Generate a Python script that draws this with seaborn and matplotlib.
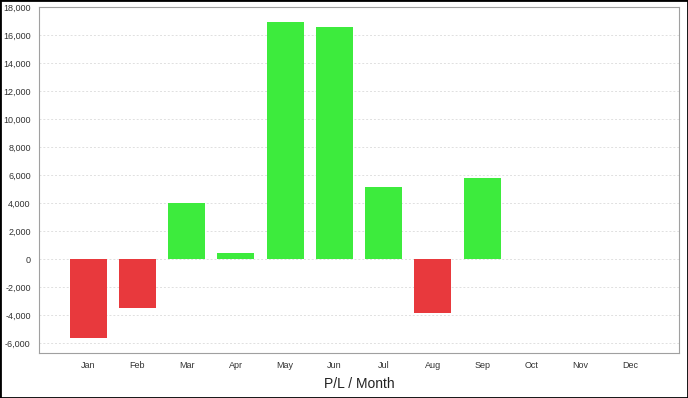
import numpy as np
import pandas as pd
import matplotlib
matplotlib.use("Agg")
import matplotlib.pyplot as plt
from matplotlib.ticker import FuncFormatter, MultipleLocator
import seaborn as sns

months = ["Jan", "Feb", "Mar", "Apr", "May", "Jun", "Jul", "Aug", "Sep", "Oct", "Nov", "Dec"]
pnl = [-5600, -3500, 4000, 450, 16900, 16600, 5150, -3850, 5800, 0, 0, 0]

red = "#E8393D"
green = "#3DEB3D"

df = pd.DataFrame({"month": months, "pnl": pnl})
colors = [red if v < 0 else green for v in pnl]

sns.set_style("white")
plt.rcParams["font.family"] = ["Liberation Sans", "DejaVu Sans"]

fig = plt.figure(figsize=(6.88, 3.98), dpi=100)
ax = fig.add_axes([39 / 688, 1 - 353 / 398, 640 / 688, 346 / 398])

sns.barplot(data=df, x="month", y="pnl", hue="month", palette=colors,
            legend=False, width=0.75, saturation=1, linewidth=0, ax=ax, zorder=3)

ax.set_xlim(-1, 12)
ax.set_ylim(-6700, 18000)
ax.yaxis.set_major_locator(MultipleLocator(2000))
ax.yaxis.set_major_formatter(FuncFormatter(lambda v, p: f"{int(v):,}"))
ax.grid(axis="y", color="#e0e0e0", linestyle=(0, (2, 2)), linewidth=0.7, zorder=0)

for s in ax.spines.values():
    s.set_color("#a0a0a0")
    s.set_linewidth(0.8)

ax.tick_params(axis="both", labelsize=6.5, colors="#999999", labelcolor="#333333",
               length=2, width=0.8, pad=4)
ax.tick_params(axis="y", length=0, pad=6)
ax.set_ylabel("")
ax.set_xlabel("P/L / Month", fontsize=10, color="#222222", labelpad=5)

fig.patches.append(plt.Rectangle((0, 0), 1, 1, transform=fig.transFigure,
                                 fill=False, edgecolor="black", linewidth=2))

plt.savefig("out.png", dpi=100)
